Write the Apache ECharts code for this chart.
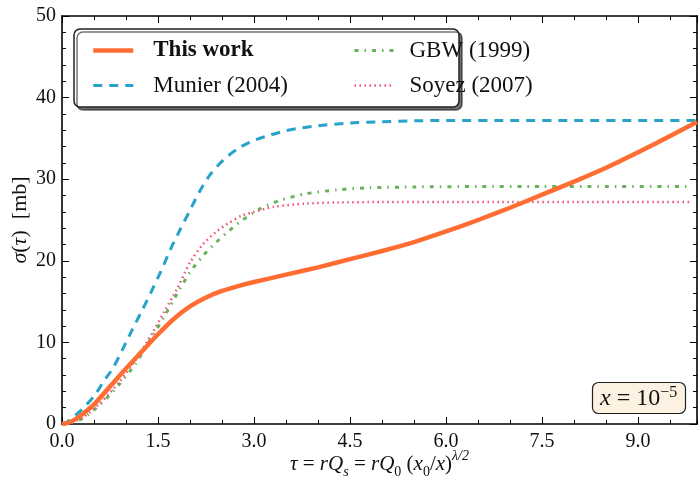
<!DOCTYPE html>
<html>
<head>
<meta charset="utf-8">
<script src="https://cdn.jsdelivr.net/npm/echarts@6/dist/echarts.min.js"></script>
<style>
  html, body { margin: 0; padding: 0; background: #fff; }
  #chart { width: 700px; height: 480px; }
</style>
</head>
<body>
<div id="chart"></div>
<script>
// tau axis range and ticks
var tauMax = 9.92;
var tauTicks = [0, 1.5, 3.0, 4.5, 6.0, 7.5, 9.0];
var sigmaTicks = [0, 10, 20, 30, 40, 50];

// This work
var tauThisWork = [0, 0.1, 0.25, 0.5, 0.75, 1.0, 1.25, 1.5, 1.75, 2.0, 2.25, 2.5, 2.75, 3.0, 3.5, 4.0, 4.5, 5.0, 5.5, 6.0, 6.5, 7.0, 7.5, 8.0, 8.5, 9.0, 9.5, 9.92];
var sigmaThisWork = [0, 0.15, 0.8, 2.4, 4.6, 6.8, 8.9, 11.0, 12.9, 14.4, 15.5, 16.3, 16.9, 17.4, 18.3, 19.2, 20.2, 21.2, 22.3, 23.6, 25.0, 26.5, 28.1, 29.7, 31.4, 33.3, 35.3, 37.0];

// Munier (2004)
var tauMunier = [0, 0.1, 0.3, 0.5, 0.65, 0.8, 0.95, 1.1, 1.25, 1.4, 1.55, 1.7, 1.85, 2.0, 2.15, 2.3, 2.45, 2.6, 2.8, 3.0, 3.25, 3.5, 3.75, 4.0, 4.5, 5.0, 5.5, 6.0, 7.0, 8.0, 9.0, 9.92];
var sigmaMunier = [0, 0.35, 1.7, 3.4, 5.2, 6.9, 9.2, 11.6, 13.9, 16.3, 18.8, 21.5, 23.9, 26.2, 28.5, 30.4, 31.8, 32.9, 34.0, 34.75, 35.4, 35.95, 36.3, 36.55, 36.9, 37.05, 37.15, 37.2, 37.2, 37.2, 37.2, 37.2];

// GBW (1999)
var tauGBW = [0, 0.15, 0.33, 0.6, 0.9, 1.15, 1.4, 1.6, 1.8, 2.0, 2.2, 2.4, 2.6, 2.8, 3.1, 3.4, 3.8, 4.3, 4.8, 5.5, 6.5, 7.5, 8.5, 9.85];
var sigmaGBW = [0, 0.15, 0.7, 2.4, 4.9, 7.4, 10.6, 13.2, 16.0, 18.6, 20.6, 22.2, 23.6, 24.9, 26.4, 27.4, 28.2, 28.7, 28.95, 29.05, 29.1, 29.1, 29.1, 29.1];

// Soyez (2007)
var tauSoyez = [0, 0.15, 0.33, 0.6, 0.9, 1.15, 1.4, 1.6, 1.8, 2.0, 2.2, 2.4, 2.6, 2.8, 3.0, 3.3, 3.8, 4.3, 5.0, 6.0, 7.0, 8.0, 9.0, 9.85];
var sigmaSoyez = [0, 0.2, 0.8, 2.6, 5.2, 7.9, 11.0, 13.8, 16.6, 19.8, 22.0, 23.5, 24.6, 25.5, 26.0, 26.6, 27.0, 27.15, 27.2, 27.2, 27.2, 27.2, 27.2, 27.2];

var FONT = "'Liberation Serif', 'DejaVu Serif', serif";

var colOrange = '#ff6d33', colBlue = '#27a2c8', colGreen = '#68b25a', colPink = '#f3507a';

function pairs(xs, ys) {
    return xs.map(function (x, i) { return [x, ys[i]]; });
}

function mathRich(size) {
    var base = { fontFamily: FONT, fontSize: size, lineHeight: 30, color: '#111', fontWeight: 'normal' };
    var small = { fontFamily: FONT, fontSize: Math.round(size * 0.68), lineHeight: 16, color: '#111', fontWeight: 'normal' };
    return {
        n: base,
        i: Object.assign({}, base, { fontStyle: 'italic' }),
        sb: Object.assign({}, small, { verticalAlign: 'bottom', fontStyle: 'italic' }),
        sbn: Object.assign({}, small, { verticalAlign: 'bottom' }),
        sp: Object.assign({}, small, { verticalAlign: 'top', fontStyle: 'italic' })
    };
}

function xAxisOf(pos, interval, len, showLine, showLabel) {
    return {
        type: 'value', position: pos, min: 0, max: tauMax, interval: interval,
        axisLine: { show: showLine, onZero: false, lineStyle: { color: '#000', width: 1.6 } },
        axisTick: { show: true, inside: true, length: len, lineStyle: { color: '#000', width: 1 } },
        axisLabel: {
            show: showLabel, showMaxLabel: false, margin: 8,
            fontFamily: FONT, fontSize: 20, color: '#111',
            formatter: function (v) { return tauTicks.indexOf(v) >= 0 ? v.toFixed(1) : ''; }
        },
        splitLine: { show: false }
    };
}

function yAxisOf(pos, showLabel) {
    return {
        type: 'value', position: pos, min: 0, max: 50, interval: 10,
        axisLine: { show: true, onZero: false, lineStyle: { color: '#000', width: 1.6 } },
        axisTick: { show: true, inside: true, length: 7, lineStyle: { color: '#000', width: 1 } },
        minorTick: { show: true, splitNumber: 5, length: 4, lineStyle: { color: '#000', width: 1 } },
        axisLabel: { show: showLabel, margin: 6, fontFamily: FONT, fontSize: 20, color: '#111' },
        splitLine: { show: false }
    };
}

var chart = echarts.init(document.getElementById('chart'), null, { renderer: 'canvas' });

var xMain = xAxisOf('bottom', 1.5, 7, true, true);
xMain.name = '{i|τ}{n| = }{i|rQ}{sb|s}{n| = }{i|rQ}{sbn|0}{n| (}{i|x}{sbn|0}{n|/}{i|x}{n|)}{sp|λ/2}';
xMain.nameLocation = 'middle';
xMain.nameGap = 25;
xMain.nameMoveOverlap = false;
xMain.nameTextStyle = { rich: mathRich(21) };

var yMain = yAxisOf('left', true);
yMain.name = '{i|σ}{n|(}{i|τ}{n|)  [mb]}';
yMain.nameLocation = 'middle';
yMain.nameGap = 27;
yMain.nameMoveOverlap = false;
yMain.nameTextStyle = { rich: mathRich(22) };

var option = {
    animation: false,
    backgroundColor: '#fff',
    grid: { left: 62, right: 3, top: 16, bottom: 56, containLabel: false, outerBoundsMode: 'none' },
    xAxis: [
        xMain,
        xAxisOf('bottom', 0.5, 4, false, false),
        xAxisOf('top', 1.5, 7, true, false),
        xAxisOf('top', 0.5, 4, false, false)
    ],
    yAxis: [yMain, yAxisOf('right', false)],
    title: {
        text: '{i|x}{n| = 10}{sp|−5}',
        left: 592, top: 382,
        padding: [3, 9, 3, 8],
        backgroundColor: '#fdf1e1',
        borderColor: '#222', borderWidth: 1.2, borderRadius: 6,
        textStyle: {
            fontWeight: 'normal',
            rich: {
                n: { fontFamily: FONT, fontSize: 24, lineHeight: 28, color: '#111', fontWeight: 'normal' },
                i: { fontFamily: FONT, fontSize: 24, lineHeight: 28, fontStyle: 'italic', color: '#111', fontWeight: 'normal' },
                sp: { fontFamily: FONT, fontSize: 16, lineHeight: 16, verticalAlign: 'top', color: '#111', fontWeight: 'normal' }
            }
        }
    },
    graphic: [{
        type: 'rect', z: 5,
        shape: { x: 74, y: 29, width: 385, height: 78, r: 6 },
        style: {
            fill: '#fff', stroke: '#222', lineWidth: 1.5,
            shadowColor: 'rgba(0,0,0,0.55)', shadowOffsetX: 3, shadowOffsetY: 3, shadowBlur: 0
        }
    }],
    legend: [{
        orient: 'vertical', left: 86, top: 34, itemGap: 12,
        itemWidth: 40, itemHeight: 22, z: 10,
        itemStyle: { opacity: 0 },
        textStyle: { fontFamily: FONT, fontSize: 23, lineHeight: 22, color: '#111', padding: [0, 0, 0, 15] },
        data: [
            { name: 'This work', textStyle: { fontWeight: 'bold' }, lineStyle: { width: 4.5, color: colOrange } },
            { name: 'Munier (2004)', lineStyle: { width: 3, color: colBlue } }
        ]
    }, {
        orient: 'vertical', left: 348, top: 34, itemGap: 12,
        itemWidth: 40, itemHeight: 22, z: 10,
        itemStyle: { opacity: 0 },
        textStyle: { fontFamily: FONT, fontSize: 23, lineHeight: 22, color: '#111', padding: [0, 0, 0, 10] },
        data: [
            { name: 'GBW (1999)', lineStyle: { width: 3, color: colGreen } },
            { name: 'Soyez (2007)', lineStyle: { width: 2.5, color: colPink } }
        ]
    }],
    series: [{
        name: 'Munier (2004)', type: 'line', symbol: 'none', smooth: 0.25,
        data: pairs(tauMunier, sigmaMunier), z: 2,
        lineStyle: { color: colBlue, width: 3, type: [9, 7] },
        itemStyle: { color: colBlue }
    }, {
        name: 'GBW (1999)', type: 'line', symbol: 'none', smooth: 0.25,
        data: pairs(tauGBW, sigmaGBW), z: 2,
        lineStyle: { color: colGreen, width: 3, type: [4, 6, 1.5, 6] },
        itemStyle: { color: colGreen }
    }, {
        name: 'Soyez (2007)', type: 'line', symbol: 'none', smooth: 0.25,
        data: pairs(tauSoyez, sigmaSoyez), z: 2,
        lineStyle: { color: colPink, width: 2.5, type: [1.5, 3.5] },
        itemStyle: { color: colPink }
    }, {
        name: 'This work', type: 'line', symbol: 'none', smooth: 0.25,
        data: pairs(tauThisWork, sigmaThisWork), z: 3,
        lineStyle: { color: colOrange, width: 4.5, join: 'round' },
        itemStyle: { color: colOrange }
    }]
};

chart.setOption(option);
</script>
</body>
</html>
